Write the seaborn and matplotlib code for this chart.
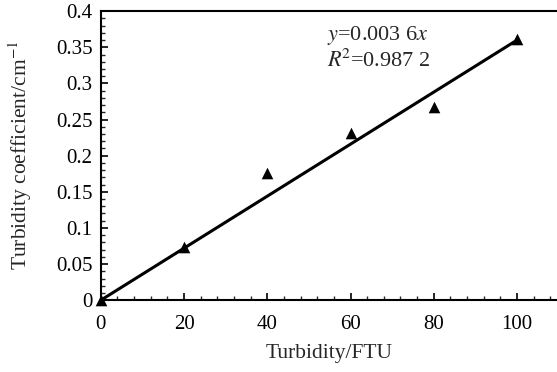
import numpy as np
import pandas as pd
import matplotlib
matplotlib.use('Agg')
import matplotlib.pyplot as plt
import seaborn as sns
from matplotlib.ticker import MultipleLocator, FuncFormatter

turbidity = [0, 20, 40, 60, 80, 100]
coef = [0.0, 0.074, 0.176, 0.231, 0.268, 0.362]

# fitted line y = 0.0036x
fit_x = [0, 100]
fit_y = [0.0, 0.36]

sns.set_theme(style='white')
plt.rcParams['font.family'] = ['Liberation Serif', 'DejaVu Serif']
plt.rcParams['mathtext.fontset'] = 'stix'

df = pd.DataFrame({'Turbidity': turbidity, 'Coef': coef})
fit = pd.DataFrame({'x': fit_x, 'y': fit_y})

fig = plt.figure(figsize=(5.57, 3.72), dpi=100)
ax = fig.add_axes([0.181, 0.193, 0.819, 0.777])

sns.lineplot(data=fit, x='x', y='y', color='black', linewidth=2.2, ax=ax)
sns.scatterplot(data=df, x='Turbidity', y='Coef', marker='^', color='black',
                s=70, edgecolor='black', linewidth=0, ax=ax, zorder=3, clip_on=False)

ax.set_xlim(0, 109.6)
ax.set_ylim(0, 0.4)
ax.xaxis.set_major_locator(MultipleLocator(20))
ax.xaxis.set_minor_locator(MultipleLocator(4))
ax.yaxis.set_major_locator(MultipleLocator(0.05))
ax.yaxis.set_minor_locator(MultipleLocator(0.01))
ax.yaxis.set_major_formatter(FuncFormatter(lambda v, p: ('%.2f' % v).rstrip('0').rstrip('.') if v != 0 else '0'))

ax.tick_params(which='major', direction='in', length=5, width=1.2, labelsize=15, pad=6, colors='black')
ax.tick_params(which='minor', direction='in', length=3, width=1.0)
ax.tick_params(axis='x', which='major', pad=11)
ax.tick_params(axis='x', which='both', bottom=True, top=False)
ax.tick_params(axis='y', which='both', left=True, right=False)

for side in ['left', 'bottom', 'top']:
    ax.spines[side].set_color('black')
    ax.spines[side].set_linewidth(1.5)
ax.spines['right'].set_visible(False)

ax.set_xlabel('Turbidity/FTU', fontsize=15.5, labelpad=7)
ax.set_ylabel('Turbidity coefficient/cm$^{-1}$', fontsize=15.5, labelpad=16)

ax.text(0.496, 0.917, '$y$=0.003 6$x$', transform=ax.transAxes, fontsize=16, va='center', ha='left')
ax.text(0.496, 0.830, '$R^{\\!2}$=0.987 2', transform=ax.transAxes, fontsize=16, va='center', ha='left')

fig.savefig('out.png', dpi=100)
